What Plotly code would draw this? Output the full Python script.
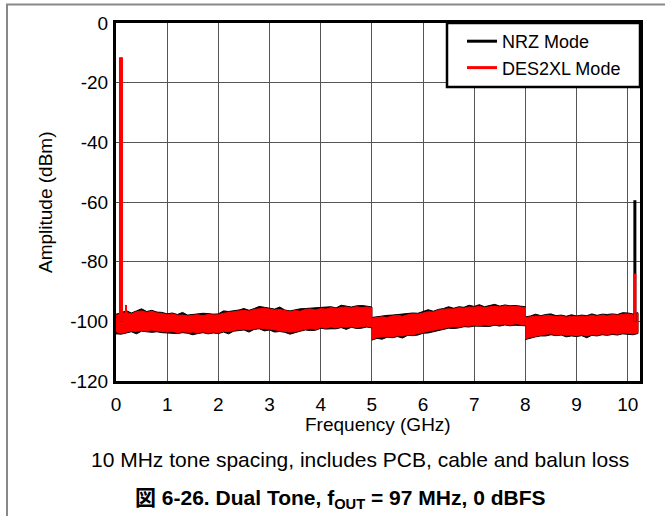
import numpy as np
import plotly.graph_objects as go

# frequency grids (GHz) for the three noise-floor segments
freq_a = np.round(np.arange(0.0, 5.05, 0.1), 2)
freq_b = np.round(np.arange(5.0, 8.05, 0.1), 2)
freq_c = np.round(np.arange(8.0, 10.25, 0.1), 2)

# DES2XL noise floor envelope (dBm)
des_hi_a = [-98.0, -97.5, -97.0, -97.5, -96.8, -96.5, -97.0, -96.6, -97.2, -97.4,
            -97.8, -97.5, -98.0, -97.9, -98.2, -98.0, -97.8, -98.1, -97.7, -97.9,
            -97.8, -97.3, -97.0, -96.8, -96.5, -96.3, -96.6, -96.0, -95.8, -95.6,
            -95.9, -96.2, -96.0, -96.5, -96.8, -96.4, -96.6, -96.0, -95.9, -96.2,
            -95.7, -95.9, -95.4, -95.8, -95.3, -95.2, -95.5, -95.1, -95.4, -95.2, -95.5]
des_lo_a = [-103.5, -104.0, -103.6, -103.2, -103.4, -103.0, -103.3, -102.9, -103.2, -103.5,
            -103.6, -103.4, -103.8, -103.5, -103.7, -103.6, -103.8, -103.5, -103.9, -103.6,
            -103.8, -103.3, -103.5, -103.0, -102.8, -102.6, -102.9, -102.4, -102.2, -102.5,
            -102.6, -102.9, -103.1, -103.4, -103.6, -103.5, -103.0, -102.6, -102.4, -102.7,
            -102.0, -102.3, -101.9, -102.2, -101.8, -102.0, -101.7, -102.1, -101.8, -101.6, -101.9]
des_hi_b = [-99.0, -98.8, -98.5, -98.7, -98.2, -98.0, -98.3, -97.8, -97.5, -97.6,
            -97.1, -96.8, -96.9, -96.3, -96.0, -95.8, -95.9, -95.4, -95.6, -95.2,
            -95.3, -95.0, -95.4, -95.1, -94.9, -95.2, -94.8, -95.1, -95.0, -95.2, -95.4]
des_lo_b = [-106.0, -105.4, -105.3, -105.0, -105.2, -104.8, -104.9, -104.4, -104.5, -104.0,
            -103.7, -103.3, -103.0, -102.8, -102.4, -102.0, -101.8, -101.9, -101.5, -101.6,
            -101.3, -101.5, -101.2, -101.4, -101.0, -101.1, -100.9, -101.2, -100.8, -101.0, -101.2]
des_hi_c = [-98.8, -98.5, -98.2, -98.4, -98.0, -98.1, -98.4, -98.2, -98.6, -98.3,
            -98.5, -98.2, -98.4, -98.0, -98.3, -97.9, -98.2, -97.8, -98.0, -97.6,
            -97.5, -97.8, -97.4]
des_lo_c = [-105.8, -105.3, -104.9, -104.6, -104.3, -104.2, -104.5, -104.3, -104.7, -104.6,
            -104.8, -104.5, -104.9, -104.4, -104.6, -104.2, -104.4, -104.1, -104.3, -103.9,
            -104.0, -104.2, -103.8]

# NRZ noise floor envelope (dBm), mostly hidden under the DES2XL trace
nrz_hi_a = [-97.6, -97.2, -96.4, -97.2, -96.5, -95.8, -96.7, -96.3, -96.9, -97.0,
            -97.5, -97.2, -97.7, -97.0, -97.9, -97.7, -97.5, -97.3, -97.4, -97.6,
            -97.5, -96.5, -96.7, -96.5, -96.2, -95.7, -96.3, -95.7, -95.0, -95.3,
            -95.6, -95.9, -95.2, -96.2, -96.5, -96.1, -95.8, -95.7, -95.6, -95.6,
            -95.4, -95.3, -95.1, -95.5, -94.6, -94.9, -95.2, -94.8, -94.7, -94.9, -95.2]
nrz_lo_a = [-104.2, -104.3, -103.9, -103.5, -104.2, -103.3, -103.6, -103.7, -103.5, -103.8,
            -103.9, -104.1, -104.1, -103.8, -104.0, -104.5, -104.1, -103.8, -104.2, -103.9,
            -104.1, -103.6, -104.2, -103.3, -103.1, -102.9, -103.6, -102.7, -102.5, -103.2,
            -102.9, -103.6, -103.4, -103.7, -104.3, -103.8, -103.3, -102.9, -103.1, -103.0,
            -102.3, -102.6, -102.5, -102.5, -102.1, -102.7, -102.0, -102.4, -102.3, -101.9, -102.2]
nrz_hi_b = [-98.7, -98.4, -98.2, -98.0, -97.9, -97.7, -97.6, -97.5, -97.2, -97.3,
            -96.8, -96.1, -96.6, -96.0, -95.7, -95.1, -95.6, -95.1, -95.3, -94.6,
            -95.0, -94.4, -95.1, -94.8, -94.3, -94.9, -94.5, -94.8, -94.7, -94.9, -95.1]
nrz_lo_b = [-106.3, -105.7, -106.0, -105.3, -105.5, -105.1, -105.6, -104.7, -104.8, -104.6,
            -104.0, -103.9, -103.3, -103.1, -102.7, -102.3, -102.4, -102.2, -101.8, -101.9,
            -101.6, -101.8, -101.7, -101.7, -101.3, -101.6, -101.2, -101.5, -101.3, -101.3, -101.5]
nrz_hi_c = [-98.5, -98.2, -97.6, -98.1, -97.7, -97.5, -98.1, -97.9, -98.3, -97.8,
            -98.2, -97.9, -98.1, -97.5, -98.0, -97.6, -97.7, -97.5, -97.7, -97.1,
            -97.2, -97.5, -97.1]
nrz_lo_c = [-106.1, -105.6, -105.2, -104.9, -104.9, -104.5, -104.8, -104.6, -105.2, -104.9,
            -105.1, -104.8, -105.5, -104.7, -104.9, -104.5, -104.7, -104.4, -104.6, -104.2,
            -104.3, -104.5, -104.1]

# tones / spurs: frequency (GHz), peak (dBm)
tone_freq = 0.097
tone_peak = -11.6
spur_freq = 0.195
spur_peak = -94.5
image_freq = 10.14
nrz_image_peak = -59.4
des_image_peak = -84.0
floor_level = -100.0

x_ticks = list(range(0, 11))
y_ticks = list(range(-120, 1, 20))

BLACK = "#000000"
RED = "#ff0000"
FONT = "Liberation Sans, Arial, Noto Sans CJK JP, sans-serif"


def band(f, hi, lo, color):
    f = list(f)
    return go.Scatter(x=f + f[::-1], y=hi + lo[::-1], fill="toself",
                      fillcolor=color, mode="lines",
                      line=dict(color=color, width=1),
                      showlegend=False, hoverinfo="skip")


def spike(f, peak, color, width, name=None):
    return go.Scatter(x=[f, f], y=[floor_level, peak], mode="lines",
                      line=dict(color=color, width=width),
                      name=name, showlegend=name is not None)


fig = go.Figure()

for f, hi, lo in [(freq_a, nrz_hi_a, nrz_lo_a), (freq_b, nrz_hi_b, nrz_lo_b),
                  (freq_c, nrz_hi_c, nrz_lo_c)]:
    fig.add_trace(band(f, hi, lo, BLACK))
for f, hi, lo in [(freq_a, des_hi_a, des_lo_a), (freq_b, des_hi_b, des_lo_b),
                  (freq_c, des_hi_c, des_lo_c)]:
    fig.add_trace(band(f, hi, lo, RED))

fig.add_trace(spike(image_freq, nrz_image_peak, BLACK, 3, "NRZ Mode"))
fig.add_trace(spike(tone_freq, tone_peak, BLACK, 3))
fig.add_trace(spike(image_freq, des_image_peak, RED, 3, "DES2XL Mode"))
fig.add_trace(spike(tone_freq, tone_peak, RED, 4))
fig.add_trace(spike(spur_freq, spur_peak, RED, 2))

# plot area in px: x 116..640, y 23..381
def px(x):
    return (x - 116) / 524.0


def py(y):
    return (381 - y) / 358.0


axis_common = dict(showline=True, linecolor=BLACK, linewidth=3, mirror=True,
                   showgrid=True, gridcolor="#555555", gridwidth=1,
                   zeroline=False, ticks="",
                   tickfont=dict(family=FONT, size=19, color=BLACK))

fig.update_xaxes(range=[0, 10.24], tickvals=x_ticks,
                 ticktext=[str(v) for v in x_ticks],
                 ticklabelstandoff=4, **axis_common)
fig.update_yaxes(range=[-120, 0], tickvals=y_ticks,
                 ticktext=[str(v) for v in y_ticks],
                 ticklabelstandoff=1, **axis_common)

fig.update_layout(
    width=665, height=516,
    margin=dict(l=116, r=25, t=23, b=135),
    paper_bgcolor="white", plot_bgcolor="white",
    font=dict(family=FONT, color=BLACK),
    legend=dict(x=px(462), y=py(23), xanchor="left", yanchor="top",
                bgcolor="rgba(0,0,0,0)", borderwidth=0,
                font=dict(family=FONT, size=18, color=BLACK),
                tracegroupgap=0),
    shapes=[
        # legend box
        dict(type="rect", xref="paper", yref="paper",
             x0=px(447), x1=1.0, y0=py(87), y1=1.0,
             fillcolor="white", line=dict(color=BLACK, width=2.5), layer="above"),
        # outer figure frame (top and left)
        dict(type="path", xref="paper", yref="paper",
             path=f"M {px(7)} {py(516)} L {px(7)} {py(4.5)} L {px(665)} {py(4.5)}",
             line=dict(color="#888888", width=2)),
    ],
    annotations=[
        dict(text="Frequency (GHz)", xref="paper", yref="paper",
             x=0.5, y=py(424), xanchor="center", yanchor="middle",
             showarrow=False, font=dict(family=FONT, size=19, color=BLACK)),
        dict(text="Amplitude (dBm)", xref="paper", yref="paper",
             x=px(45), y=0.5, xanchor="center", yanchor="middle", textangle=-90,
             showarrow=False, font=dict(family=FONT, size=19, color=BLACK)),
        dict(text="10 MHz tone spacing, includes PCB, cable and balun loss",
             xref="paper", yref="paper", x=px(360), y=py(459),
             xanchor="center", yanchor="middle", showarrow=False,
             font=dict(family=FONT, size=21, color=BLACK)),
        dict(text="<b>図 6-26. Dual Tone, f<sub>OUT</sub> = 97 MHz, 0 dBFS</b>",
             xref="paper", yref="paper", x=px(340), y=py(499),
             xanchor="center", yanchor="middle", showarrow=False,
             font=dict(family=FONT, size=21, color=BLACK)),
    ],
)

# page body has a default 8px margin; remove it so the figure sits at 0,0
fig.write_html("out.html", config={"displayModeBar": False},
               post_script="document.body.style.margin='0';")
